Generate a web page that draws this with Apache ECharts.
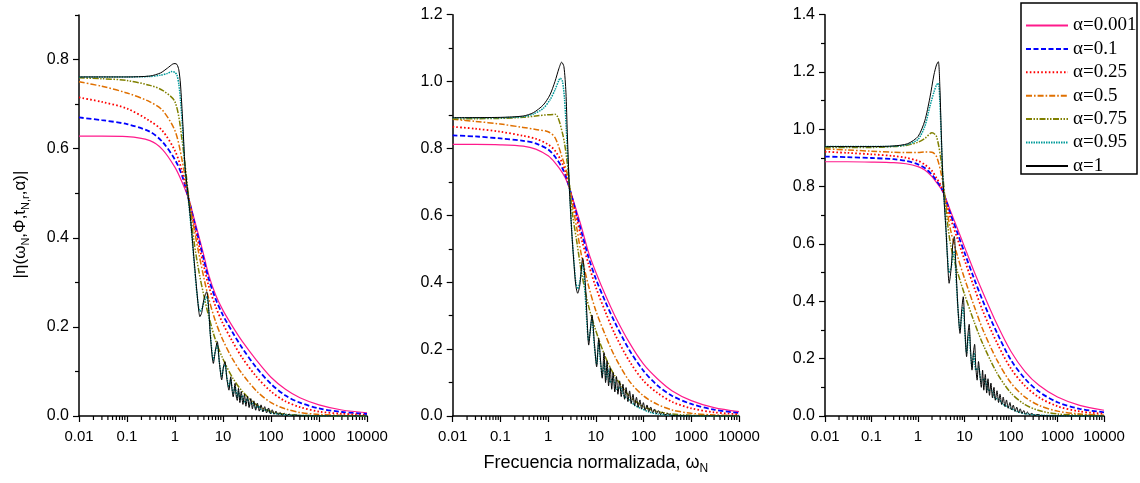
<!DOCTYPE html>
<html><head><meta charset="utf-8">
<script src="https://cdn.jsdelivr.net/npm/echarts@6/dist/echarts.min.js"></script>
<style>html,body{margin:0;padding:0;background:#fff}#c{width:1140px;height:483px}</style>
</head><body><div id="c"></div>
<script>
// ---------- DATA ----------
const alphaNames = ['α=0.001','α=0.1','α=0.25','α=0.5','α=0.75','α=0.95','α=1'];
const xTickLabels = [0.01, 0.1, 1, 10, 100, 1000, 10000];
const yMajor1 = [0, 0.2, 0.4, 0.6, 0.8];
const yMinor1 = [0.1, 0.3, 0.5, 0.7, 0.9];
const yMajor2 = [0, 0.2, 0.4, 0.6, 0.8, 1.0, 1.2];
const yMinor2 = [0.1, 0.3, 0.5, 0.7, 0.9, 1.1];
const yMajor3 = [0, 0.2, 0.4, 0.6, 0.8, 1.0, 1.2, 1.4];
const yMinor3 = [0.1, 0.3, 0.5, 0.7, 0.9, 1.1, 1.3];
const yMax = [0.9, 1.2, 1.4];

// shared frequency grid for the smooth curves
const freq = [0.01, 0.03, 0.1, 0.3, 0.55, 1, 1.4, 2, 2.5, 3.2, 4, 5, 7, 10, 16, 25, 50, 100, 200, 400, 1000, 3000, 10000];

// Panel 1
const p1_a0001 = [0.628, 0.628, 0.627, 0.618, 0.598, 0.558, 0.525, 0.482, 0.443, 0.400, 0.360, 0.318, 0.272, 0.237, 0.200, 0.168, 0.125, 0.087, 0.060, 0.041, 0.025, 0.0135, 0.0073];
const p1_a01   = [0.670, 0.664, 0.655, 0.638, 0.615, 0.575, 0.540, 0.480, 0.437, 0.392, 0.350, 0.309, 0.263, 0.226, 0.187, 0.153, 0.108, 0.072, 0.046, 0.030, 0.017, 0.009, 0.0045];
const p1_a025  = [0.715, 0.705, 0.690, 0.662, 0.640, 0.595, 0.550, 0.478, 0.430, 0.380, 0.336, 0.293, 0.246, 0.207, 0.166, 0.131, 0.088, 0.055, 0.033, 0.020, 0.010, 0.005, 0.0025];
const p1_a05   = [0.750, 0.740, 0.725, 0.705, 0.686, 0.640, 0.575, 0.480, 0.420, 0.360, 0.310, 0.265, 0.212, 0.170, 0.127, 0.095, 0.056, 0.030, 0.016, 0.008, 0.0035, 0.0015, 0.0006];
const p1_a075  = [0.759, 0.757, 0.753, 0.742, 0.731, 0.705, 0.620, 0.475, 0.390, 0.320, 0.270, 0.225, 0.170, 0.128, 0.085, 0.056, 0.025, 0.010, 0.004, 0.0015, 0.0005, 0.0002, 0.0001];
const p1_a095_x = [0.01, 0.1, 0.3, 0.5, 0.7, 0.85, 1.0, 1.1, 1.2, 1.3, 1.45, 1.62, 1.9, 2.2, 2.5, 2.8, 3.1, 3.3, 3.6, 4.0, 4.57, 5.0, 5.5, 6.3, 6.9, 7.6, 8.4, 9.4, 10.2, 11, 12, 13.3, 14.5, 15.4, 16.3, 17.8, 19.8, 21, 23, 25, 28, 32, 36, 41, 48, 55, 65, 80, 100, 150, 250, 1000, 10000];
const p1_a095_y = [0.761, 0.761, 0.762, 0.765, 0.769, 0.773, 0.771, 0.765, 0.745, 0.71, 0.64, 0.55, 0.485, 0.415, 0.345, 0.285, 0.245, 0.235, 0.24, 0.255, 0.268, 0.24, 0.18, 0.125, 0.145, 0.16, 0.12, 0.088, 0.108, 0.115, 0.088, 0.065, 0.082, 0.063, 0.05, 0.066, 0.042, 0.055, 0.036, 0.046, 0.03, 0.038, 0.024, 0.03, 0.018, 0.022, 0.012, 0.014, 0.007, 0.004, 0.002, 0.0005, 0];
const p1_a1_x = [0.01, 0.1, 0.3, 0.5, 0.7, 0.9, 1.0, 1.1, 1.2, 1.3, 1.45, 1.62, 1.9, 2.2, 2.5, 2.8, 3.1, 3.3, 3.6, 4.0, 4.57, 5.0, 5.5, 6.3, 6.9, 7.6, 8.4, 9.4, 10.2, 11, 12, 13.3, 14.5, 15.4, 16.3, 17.8, 18.8, 19.8, 21, 22.5, 24, 26, 28, 30, 32.5, 35, 38, 41, 44, 48, 52, 57, 62, 68, 74, 81, 89, 97, 106, 116, 127, 140, 155, 170, 190, 210, 240, 270, 310, 400, 1000, 10000];
const p1_a1_y = [0.761, 0.761, 0.763, 0.770, 0.781, 0.790, 0.791, 0.789, 0.777, 0.745, 0.66, 0.56, 0.49, 0.42, 0.35, 0.29, 0.24, 0.223, 0.232, 0.262, 0.279, 0.245, 0.175, 0.118, 0.145, 0.167, 0.12, 0.081, 0.11, 0.122, 0.085, 0.058, 0.088, 0.06, 0.043, 0.073, 0.045, 0.035, 0.062, 0.03, 0.055, 0.026, 0.049, 0.022, 0.044, 0.019, 0.039, 0.016, 0.034, 0.013, 0.029, 0.011, 0.025, 0.009, 0.021, 0.007, 0.018, 0.005, 0.014, 0.004, 0.011, 0.003, 0.008, 0.002, 0.006, 0.001, 0.004, 0.0005, 0.002, 0.0005, 0.0002, 0];

// Panel 2
const p2_a0001 = [0.812, 0.812, 0.811, 0.807, 0.798, 0.778, 0.757, 0.727, 0.700, 0.655, 0.610, 0.565, 0.490, 0.430, 0.360, 0.300, 0.220, 0.155, 0.110, 0.075, 0.046, 0.025, 0.013];
const p2_a01   = [0.839, 0.836, 0.830, 0.823, 0.815, 0.797, 0.775, 0.740, 0.705, 0.652, 0.600, 0.550, 0.475, 0.410, 0.340, 0.280, 0.198, 0.135, 0.090, 0.060, 0.036, 0.019, 0.009];
const p2_a025  = [0.865, 0.859, 0.850, 0.838, 0.829, 0.812, 0.793, 0.755, 0.712, 0.647, 0.590, 0.530, 0.455, 0.385, 0.310, 0.245, 0.165, 0.105, 0.068, 0.042, 0.023, 0.011, 0.005];
const p2_a05   = [0.887, 0.881, 0.873, 0.863, 0.857, 0.850, 0.832, 0.770, 0.725, 0.635, 0.560, 0.480, 0.390, 0.315, 0.240, 0.178, 0.105, 0.060, 0.034, 0.018, 0.008, 0.003, 0.0015];
const p2_a075  = [0.888, 0.889, 0.890, 0.893, 0.897, 0.901, 0.902, 0.845, 0.760, 0.610, 0.520, 0.430, 0.330, 0.255, 0.175, 0.120, 0.060, 0.028, 0.013, 0.006, 0.002, 0.001, 0.0005];
const p2_a095_x = [0.01, 0.1, 0.3, 0.49, 0.79, 1.09, 1.39, 1.69, 1.8, 2.0, 2.2, 2.4, 2.6, 2.8, 3.13, 3.5, 3.8, 4.16, 4.6, 5.3, 6.0, 7.08, 8.3, 9.3, 10.4, 11.5, 12.5, 13.6, 15, 16.5, 18, 20, 23, 27, 32, 40, 50, 65, 90, 130, 200, 400, 1000, 10000];
const p2_a095_y = [0.892, 0.892, 0.895, 0.903, 0.92, 0.945, 0.975, 1.005, 1.01, 1.0, 0.95, 0.86, 0.76, 0.68, 0.55, 0.455, 0.40, 0.38, 0.40, 0.455, 0.36, 0.225, 0.29, 0.21, 0.155, 0.22, 0.16, 0.12, 0.16, 0.11, 0.14, 0.10, 0.115, 0.08, 0.085, 0.058, 0.05, 0.032, 0.022, 0.012, 0.006, 0.002, 0.0005, 0];
const p2_a1_x = [0.01, 0.1, 0.3, 0.49, 0.79, 1.09, 1.39, 1.69, 1.92, 2.14, 2.36, 2.52, 2.77, 3.13, 3.5, 3.8, 4.16, 4.6, 5.3, 6.0, 6.6, 7.08, 7.7, 8.3, 9.3, 10.4, 11.5, 12.5, 13.6, 14.8, 16, 17.2, 18.5, 20, 21.5, 23, 25, 27, 29, 31.5, 34, 37, 40, 43, 47, 51, 55, 60, 65, 71, 77, 84, 91, 99, 108, 118, 129, 141, 155, 170, 186, 205, 225, 250, 280, 320, 380, 500, 1000, 10000];
const p2_a1_y = [0.892, 0.893, 0.897, 0.907, 0.93, 0.96, 1.0, 1.04, 1.058, 1.045, 0.968, 0.848, 0.689, 0.549, 0.45, 0.39, 0.367, 0.39, 0.472, 0.40, 0.28, 0.212, 0.26, 0.302, 0.22, 0.147, 0.232, 0.17, 0.113, 0.19, 0.1, 0.165, 0.09, 0.145, 0.08, 0.13, 0.072, 0.118, 0.065, 0.105, 0.058, 0.095, 0.05, 0.085, 0.043, 0.075, 0.037, 0.065, 0.031, 0.056, 0.026, 0.048, 0.021, 0.04, 0.017, 0.033, 0.013, 0.027, 0.01, 0.021, 0.007, 0.016, 0.005, 0.011, 0.003, 0.007, 0.002, 0.001, 0.0003, 0];

// Panel 3
const p3_a0001 = [0.887, 0.887, 0.886, 0.884, 0.880, 0.870, 0.858, 0.835, 0.815, 0.790, 0.757, 0.715, 0.655, 0.590, 0.505, 0.430, 0.320, 0.225, 0.155, 0.107, 0.066, 0.037, 0.020];
const p3_a01   = [0.905, 0.903, 0.900, 0.896, 0.890, 0.878, 0.865, 0.842, 0.820, 0.795, 0.753, 0.705, 0.640, 0.570, 0.480, 0.400, 0.290, 0.195, 0.130, 0.085, 0.048, 0.025, 0.013];
const p3_a025  = [0.922, 0.918, 0.913, 0.907, 0.901, 0.890, 0.877, 0.855, 0.830, 0.800, 0.748, 0.690, 0.620, 0.545, 0.450, 0.365, 0.255, 0.165, 0.105, 0.065, 0.034, 0.016, 0.008];
const p3_a05   = [0.932, 0.928, 0.924, 0.920, 0.919, 0.919, 0.921, 0.920, 0.905, 0.840, 0.740, 0.650, 0.560, 0.480, 0.385, 0.300, 0.195, 0.115, 0.066, 0.037, 0.017, 0.007, 0.003];
const p3_a075  = [0.937, 0.937, 0.937, 0.940, 0.944, 0.955, 0.968, 0.988, 0.975, 0.880, 0.720, 0.600, 0.505, 0.425, 0.330, 0.250, 0.150, 0.080, 0.040, 0.019, 0.007, 0.003, 0.001];
const p3_a095_x = [0.01, 0.1, 0.3, 0.6, 1, 1.4, 1.8, 2.2, 2.5, 2.74, 2.95, 3.15, 3.4, 3.68, 4.0, 4.3, 4.67, 5.2, 5.6, 6.03, 6.5, 7.2, 8, 8.7, 9.4, 10.2, 11.1, 12, 12.6, 13.5, 14.5, 16, 17.5, 20, 23, 27, 32, 38, 45, 55, 68, 90, 130, 200, 400, 1000, 10000];
const p3_a095_y = [0.94, 0.94, 0.941, 0.947, 0.965, 1.01, 1.08, 1.13, 1.155, 1.161, 1.1, 0.98, 0.84, 0.75, 0.65, 0.56, 0.5, 0.52, 0.56, 0.575, 0.5, 0.38, 0.30, 0.35, 0.38, 0.29, 0.22, 0.27, 0.29, 0.22, 0.17, 0.22, 0.16, 0.17, 0.12, 0.13, 0.09, 0.09, 0.063, 0.058, 0.04, 0.03, 0.017, 0.008, 0.003, 0.001, 0];
const p3_a1_x = [0.01, 0.1, 0.3, 0.6, 1, 1.4, 1.8, 2.2, 2.5, 2.74, 2.95, 3.15, 3.4, 3.68, 4.0, 4.3, 4.67, 5.2, 5.6, 6.03, 6.5, 7.2, 8, 8.7, 9.4, 10.2, 11.1, 11.8, 12.6, 13.5, 14.5, 15.5, 16.5, 17.5, 18.7, 20, 21.5, 23, 24.5, 26, 28, 30, 32, 34.5, 37, 40, 43, 46, 50, 54, 58, 63, 68, 74, 80, 87, 95, 103, 112, 122, 133, 145, 158, 172, 188, 205, 225, 250, 280, 320, 380, 450, 1000, 10000];
const p3_a1_y = [0.94, 0.94, 0.942, 0.95, 0.975, 1.03, 1.11, 1.19, 1.225, 1.236, 1.15, 1.0, 0.84, 0.74, 0.65, 0.55, 0.463, 0.52, 0.6, 0.626, 0.53, 0.38, 0.288, 0.37, 0.416, 0.3, 0.207, 0.28, 0.32, 0.23, 0.16, 0.22, 0.25, 0.17, 0.125, 0.19, 0.14, 0.1, 0.16, 0.09, 0.145, 0.08, 0.13, 0.072, 0.115, 0.063, 0.1, 0.055, 0.088, 0.047, 0.076, 0.04, 0.066, 0.033, 0.056, 0.027, 0.047, 0.021, 0.038, 0.016, 0.031, 0.012, 0.025, 0.009, 0.019, 0.006, 0.014, 0.004, 0.009, 0.002, 0.005, 0.001, 0.0003, 0];

// ---------- CHART ----------
const panels = [
  {smooth: [p1_a0001, p1_a01, p1_a025, p1_a05, p1_a075], osc: [[p1_a095_x, p1_a095_y], [p1_a1_x, p1_a1_y]], major: yMajor1, minor: yMinor1},
  {smooth: [p2_a0001, p2_a01, p2_a025, p2_a05, p2_a075], osc: [[p2_a095_x, p2_a095_y], [p2_a1_x, p2_a1_y]], major: yMajor2, minor: yMinor2},
  {smooth: [p3_a0001, p3_a01, p3_a025, p3_a05, p3_a075], osc: [[p3_a095_x, p3_a095_y], [p3_a1_x, p3_a1_y]], major: yMajor3, minor: yMinor3}
];
const gridBoxes = [
  {left: 79, top: 15, width: 288, height: 401},
  {left: 452.7, top: 14.7, width: 286.3, height: 401.3},
  {left: 825, top: 14.7, width: 279, height: 401.3}
];
const lineStyles = [
  {color: '#ff1a8c', type: 'solid', width: 1.2},
  {color: '#0000ff', type: [5, 2.5], width: 1.8},
  {color: '#ff0000', type: [1.6, 2.2], width: 1.8},
  {color: '#e07000', type: [6, 2, 1.6, 2], width: 1.5},
  {color: '#808000', type: [6, 1.5, 1.5, 1.5, 1.5, 1.5], width: 1.5},
  {color: '#009a9a', type: [1.5, 1], width: 1.5},
  {color: '#000000', type: 'solid', width: 1}
];
// minor log ticks (2..9 within each decade)
const xMinorTicks = [];
xTickLabels.slice(0, -1).forEach(d => { for (let k = 2; k <= 9; k++) xMinorTicks.push(+(d * k).toPrecision(6)); });

const font = 'Liberation Sans, Arial, sans-serif';
const axisColor = '#000';
const grids = [], xAxes = [], yAxes = [], series = [];

panels.forEach((p, g) => {
  grids.push(Object.assign({containLabel: false}, gridBoxes[g]));
  const xa = {
    type: 'log', gridIndex: g, min: 0.01, max: 10000, logBase: 10, splitNumber: 6,
    axisLine: {lineStyle: {color: axisColor, width: 1.5}},
    axisTick: {length: 6, lineStyle: {color: axisColor, width: 1.2}},
    splitLine: {show: false},
    axisLabel: {color: '#000', fontSize: 15, fontFamily: font, margin: 13,
      formatter: v => String(+(+v).toPrecision(6))}
  };
  if (g === 1) {
    xa.name = 'Frecuencia normalizada, ω{sub|N}';
    xa.nameLocation = 'middle';
    xa.nameGap = 35;
    xa.nameTextStyle = {color: '#000', fontSize: 18, fontFamily: font, lineHeight: 24,
      rich: {sub: {fontSize: 12, fontFamily: font, color: '#000', verticalAlign: 'bottom', lineHeight: 12}}};
  }
  xAxes.push(xa);
  const ya = {
    type: 'value', gridIndex: g, position: 'left', min: 0, max: yMax[g], interval: 0.2,
    axisLine: {show: true, lineStyle: {color: axisColor, width: 1.5}},
    axisTick: {show: true, length: 6, lineStyle: {color: axisColor, width: 1.2}, customValues: p.major},
    splitLine: {show: false},
    axisLabel: {color: '#000', fontSize: 16, fontFamily: font, margin: 10, customValues: p.major,
      formatter: v => (+v).toFixed(1)}
  };
  if (g === 0) {
    ya.name = '|η(ω{sub|N},Φ,t{sub|N,r},α)|';
    ya.nameLocation = 'middle';
    ya.nameRotate = 90;
    ya.nameGap = 48;
    ya.nameTextStyle = {color: '#000', fontSize: 17, fontFamily: font, lineHeight: 22, padding: [0, 18, 0, 0],
      rich: {sub: {fontSize: 11, fontFamily: font, color: '#000', verticalAlign: 'bottom', lineHeight: 11}}};
  }
  yAxes.push(ya);
  yAxes.push({
    type: 'value', gridIndex: g, position: 'left', offset: 0, min: 0, max: yMax[g], interval: 0.1,
    axisLine: {show: false}, splitLine: {show: false}, axisLabel: {show: false},
    axisTick: {show: true, length: 4, lineStyle: {color: axisColor, width: 1.2}, customValues: p.minor}
  });

  // minor ticks of log x axis
  series.push({
    type: 'custom', xAxisIndex: g, yAxisIndex: 2 * g, silent: true, clip: false, z: 5,
    data: xMinorTicks.map(v => [v, 0]),
    renderItem: (params, api) => {
      const pt = api.coord([api.value(0), 0]);
      return {type: 'line', shape: {x1: pt[0], y1: pt[1], x2: pt[0], y2: pt[1] + 4},
        style: {stroke: '#000', lineWidth: 1.2}};
    }
  });

  const curves = [];
  p.smooth.forEach(arr => curves.push(freq.map((f, i) => [f, arr[i]])));
  p.osc.forEach(([xs, ys]) => curves.push(xs.map((f, i) => [f, ys[i]])));
  curves.forEach((data, k) => {
    series.push({
      name: alphaNames[k], type: 'line', xAxisIndex: g, yAxisIndex: 2 * g,
      data: data, symbol: 'none', showSymbol: false,
      smooth: k < 5 ? 0.3 : 0.25,
      lineStyle: Object.assign({}, lineStyles[k]),
      itemStyle: {color: lineStyles[k].color},
      z: 10 + k
    });
  });
});

const chart = echarts.init(document.getElementById('c'), null, {renderer: 'canvas'});
chart.setOption({
  animation: false,
  backgroundColor: '#fff',
  grid: grids, xAxis: xAxes, yAxis: yAxes, series: series,
  legend: {
    data: alphaNames, orient: 'vertical', left: 1025, top: 16,
    itemWidth: 42, itemHeight: 14, itemGap: 4.4, padding: 0, selectedMode: false,
    itemStyle: {opacity: 0},
    textStyle: {fontFamily: 'Liberation Serif, Times New Roman, serif', fontSize: 19, color: '#000'}
  },
  graphic: [{type: 'rect', shape: {x: 1021, y: 3, width: 116, height: 171},
    style: {fill: 'none', stroke: '#000', lineWidth: 1.5}, z: 100}]
});
</script></body></html>
